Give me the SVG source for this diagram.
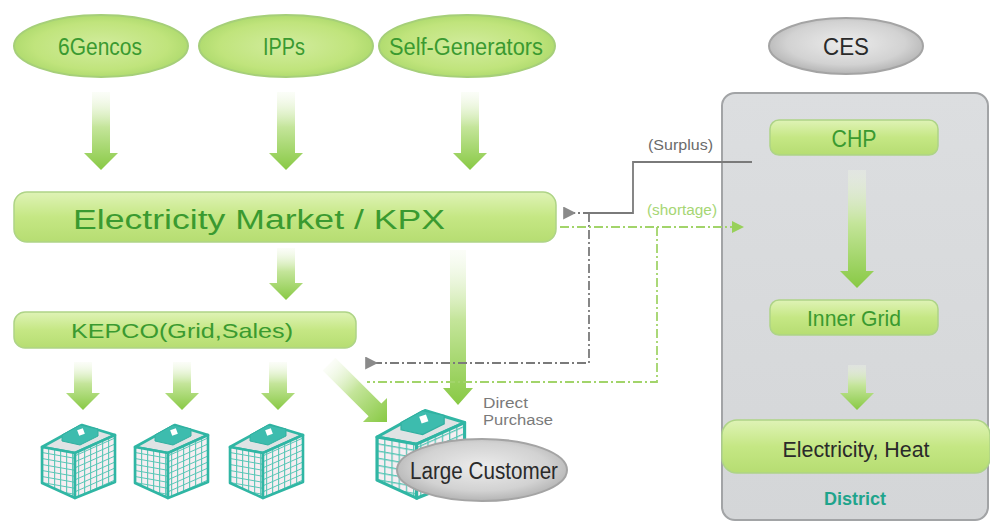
<svg xmlns="http://www.w3.org/2000/svg" xmlns:xlink="http://www.w3.org/1999/xlink" width="990" height="521" viewBox="0 0 990 521">
  <style>
    .lbl { font-family: "Liberation Sans", Arial, sans-serif; text-anchor: middle; }
    .grn { fill: #3a9a30; }
    .dark { fill: #2a2a2a; }
    .note { font-family: "Liberation Sans", Arial, sans-serif; font-size: 14px; }
    .pill { fill: url(#gBar); stroke: #aed487; stroke-width: 1.5; }
    .oval { fill: url(#gOval); stroke: #a6cf79; stroke-width: 2; }
    .goval { fill: url(#gGray); stroke: #a4a4a4; stroke-width: 2; }
    .flow { fill: url(#gArrow); }
    .gline { fill: none; stroke: #7a7a7a; stroke-width: 1.8; }
    .gdash { fill: none; stroke: #7a7a7a; stroke-width: 1.8; stroke-dasharray: 9 3 2 3; }
    .ldash { fill: none; stroke: #a2d46a; stroke-width: 1.8; stroke-dasharray: 9 3 2 3; }
    .face { stroke: #30b6a4; stroke-width: 2.6; stroke-linejoin: round; }
  </style>
  <defs>
    <linearGradient id="gBar" x1="0" y1="0" x2="0" y2="1">
      <stop offset="0" stop-color="#dff3b6"/>
      <stop offset="0.5" stop-color="#c5e784"/>
      <stop offset="1" stop-color="#b6dd72"/>
    </linearGradient>
    <radialGradient id="gOval" cx="0.5" cy="0.5" r="0.55">
      <stop offset="0" stop-color="#d2ec9e"/>
      <stop offset="0.7" stop-color="#c0e47c"/>
      <stop offset="1" stop-color="#aad86a"/>
    </radialGradient>
    <radialGradient id="gGray" cx="0.5" cy="0.45" r="0.55">
      <stop offset="0" stop-color="#ececec"/>
      <stop offset="0.7" stop-color="#d2d2d2"/>
      <stop offset="1" stop-color="#b4b4b4"/>
    </radialGradient>
    <linearGradient id="gArrow" x1="0" y1="0" x2="0" y2="1">
      <stop offset="0" stop-color="#f2f9e8" stop-opacity="0.3"/>
      <stop offset="0.45" stop-color="#c4e59a"/>
      <stop offset="1" stop-color="#88c944"/>
    </linearGradient>
    <linearGradient id="gBox" x1="0" y1="0" x2="0" y2="1">
      <stop offset="0" stop-color="#dcdee0"/>
      <stop offset="1" stop-color="#d4d6d8"/>
    </linearGradient>
    <pattern id="winL" width="6" height="6" patternUnits="userSpaceOnUse" patternTransform="skewY(10)">
      <rect width="6" height="6" fill="#f6eef2"/>
      <path d="M0,0.5 H6 M0.5,0 V6" stroke="#58c6b6" stroke-width="1.1"/>
    </pattern>
    <pattern id="winR" width="6" height="6" patternUnits="userSpaceOnUse" patternTransform="skewY(-24)">
      <rect width="6" height="6" fill="#f6eef2"/>
      <path d="M0,0.5 H6 M0.5,0 V6" stroke="#58c6b6" stroke-width="1.1"/>
    </pattern>
    <marker id="mGray" viewBox="0 0 12 12" refX="2" refY="6" markerWidth="13" markerHeight="13" markerUnits="userSpaceOnUse" orient="auto">
      <path d="M12,0 L0,6 L12,12 Z" fill="#8a8a8a"/>
    </marker>
    <marker id="mGreen" viewBox="0 0 12 12" refX="10" refY="6" markerWidth="12" markerHeight="12" markerUnits="userSpaceOnUse" orient="auto">
      <path d="M0,0 L12,6 L0,12 Z" fill="#98d05a"/>
    </marker>
    <!-- isometric office block, 75 x 78 -->
    <g id="bldg">
      <polygon class="face" points="0,25 33,31 73,13 40,3" fill="#dfe3e4"/>
      <polygon points="20,13 38,3 56,7 56,14 38,23 20,19" fill="#3dbcae" stroke="#30b0a0" stroke-width="1"/>
      <rect x="36" y="7" width="6" height="6" fill="#ffffff" transform="rotate(-20 39 10)"/>
      <polygon class="face" points="0,25 33,31 33,76 0,61" fill="url(#winL)"/>
      <polygon class="face" points="33,31 73,13 73,60 33,76" fill="url(#winR)"/>
    </g>
  </defs>

  <rect width="990" height="521" fill="#ffffff"/>

  <!-- big green flow arrows -->
  <g id="flows">
    <path class="flow" d="M-9,-78 H9 V-17 H17 L0,0 L-17,-17 H-9 Z" transform="translate(101,170)"/>
    <path class="flow" d="M-9,-78 H9 V-17 H17 L0,0 L-17,-17 H-9 Z" transform="translate(286,170)"/>
    <path class="flow" d="M-9,-78 H9 V-17 H17 L0,0 L-17,-17 H-9 Z" transform="translate(470,170)"/>
    <path class="flow" d="M-9,-52 H9 V-17 H17 L0,0 L-17,-17 H-9 Z" transform="translate(286,300)"/>
    <path class="flow" d="M-8,-155 H8 V-17 H15 L0,0 L-15,-17 H-8 Z" transform="translate(458,405)"/>
    <path class="flow" d="M-9,-48 H9 V-17 H17 L0,0 L-17,-17 H-9 Z" transform="translate(83,410)"/>
    <path class="flow" d="M-9,-48 H9 V-17 H17 L0,0 L-17,-17 H-9 Z" transform="translate(182,410)"/>
    <path class="flow" d="M-9,-48 H9 V-17 H17 L0,0 L-17,-17 H-9 Z" transform="translate(278,410)"/>
    <path class="flow" d="M-9,-82 H9 V-17 H17 L0,0 L-17,-17 H-9 Z" transform="translate(387,422) rotate(-45)"/>
  </g>

  <!-- CES district container -->
  <g id="ces-district">
    <rect x="722" y="93" width="266" height="427" rx="13" fill="url(#gBox)" stroke="#a2a4a6" stroke-width="2"/>
    <path class="flow" d="M-9,-118 H9 V-17 H17 L0,0 L-17,-17 H-9 Z" transform="translate(857,288)"/>
    <path class="flow" d="M-9,-45 H9 V-17 H17 L0,0 L-17,-17 H-9 Z" transform="translate(857,410)"/>
    <text class="lbl" x="855" y="505" font-size="19" font-weight="bold" fill="#1fa48c" textLength="62" lengthAdjust="spacingAndGlyphs">District</text>
  </g>

  <g id="node-gencos">
    <ellipse class="oval" cx="101" cy="46" rx="87" ry="31"/>
    <text class="lbl grn" x="100" y="55" font-size="23" textLength="84" lengthAdjust="spacingAndGlyphs">6Gencos</text>
  </g>
  <g id="node-ipps">
    <ellipse class="oval" cx="286" cy="46" rx="87" ry="31"/>
    <text class="lbl grn" x="284" y="55" font-size="23" textLength="42" lengthAdjust="spacingAndGlyphs">IPPs</text>
  </g>
  <g id="node-selfgen">
    <ellipse class="oval" cx="467" cy="46" rx="88" ry="31"/>
    <text class="lbl grn" x="466" y="55" font-size="23" textLength="154" lengthAdjust="spacingAndGlyphs">Self-Generators</text>
  </g>
  <g id="node-ces">
    <ellipse class="goval" cx="846" cy="46" rx="77" ry="28"/>
    <text class="lbl dark" x="846" y="55" font-size="23" textLength="46" lengthAdjust="spacingAndGlyphs">CES</text>
  </g>

  <g id="node-market">
    <rect class="pill" x="14" y="192" width="542" height="50" rx="13"/>
    <text class="lbl grn" x="259" y="229" font-size="27" textLength="372" lengthAdjust="spacingAndGlyphs">Electricity Market / KPX</text>
  </g>
  <g id="node-kepco">
    <rect class="pill" x="14" y="312" width="342" height="36" rx="11"/>
    <text class="lbl grn" x="182" y="338" font-size="21" textLength="222" lengthAdjust="spacingAndGlyphs">KEPCO(Grid,Sales)</text>
  </g>

  <g id="node-chp">
    <rect class="pill" x="770" y="120" width="168" height="35" rx="9"/>
    <text class="lbl grn" x="854" y="147" font-size="24" textLength="45" lengthAdjust="spacingAndGlyphs">CHP</text>
  </g>
  <g id="node-inner-grid">
    <rect class="pill" x="770" y="300" width="168" height="35" rx="9"/>
    <text class="lbl grn" x="854" y="326" font-size="22" textLength="94" lengthAdjust="spacingAndGlyphs">Inner Grid</text>
  </g>
  <g id="node-elec-heat">
    <rect class="pill" x="722" y="420" width="268" height="53" rx="15"/>
    <text class="lbl dark" x="856" y="457" font-size="22" textLength="147" lengthAdjust="spacingAndGlyphs">Electricity, Heat</text>
  </g>

  <g id="node-building-1"><use xlink:href="#bldg" transform="translate(42,422)"/></g>
  <g id="node-building-2"><use xlink:href="#bldg" transform="translate(135,422)"/></g>
  <g id="node-building-3"><use xlink:href="#bldg" transform="translate(230,422)"/></g>

  <g id="node-large-customer">
    <use xlink:href="#bldg" transform="translate(377,407) scale(1.2)"/>
    <ellipse class="goval" cx="482" cy="470" rx="85" ry="31"/>
    <text class="lbl dark" x="484" y="479" font-size="23" textLength="148" lengthAdjust="spacingAndGlyphs">Large Customer</text>
  </g>

  <!-- surplus / shortage trade lines -->
  <g id="connectors">
    <path class="gline" d="M752,162 H633 V213 H592"/>
    <path class="gdash" d="M592,213 H574" marker-end="url(#mGray)"/>
    <path class="gdash" d="M589,213 V363 H376" marker-end="url(#mGray)"/>
    <path class="ldash" d="M560,227 H742" marker-end="url(#mGreen)"/>
    <path class="ldash" d="M657,227 V382 H367"/>
    <text class="note" x="648" y="150" font-size="15" fill="#6a6a6a" textLength="65" lengthAdjust="spacingAndGlyphs">(Surplus)</text>
    <text class="note" x="647" y="215" font-size="15" fill="#a6d674" textLength="70" lengthAdjust="spacingAndGlyphs">(shortage)</text>
    <text class="note" x="483" y="408" font-size="16" fill="#7a7a7a" textLength="45" lengthAdjust="spacingAndGlyphs">Direct</text>
    <text class="note" x="483" y="425" font-size="16" fill="#7a7a7a" textLength="70" lengthAdjust="spacingAndGlyphs">Purchase</text>
  </g>
</svg>
